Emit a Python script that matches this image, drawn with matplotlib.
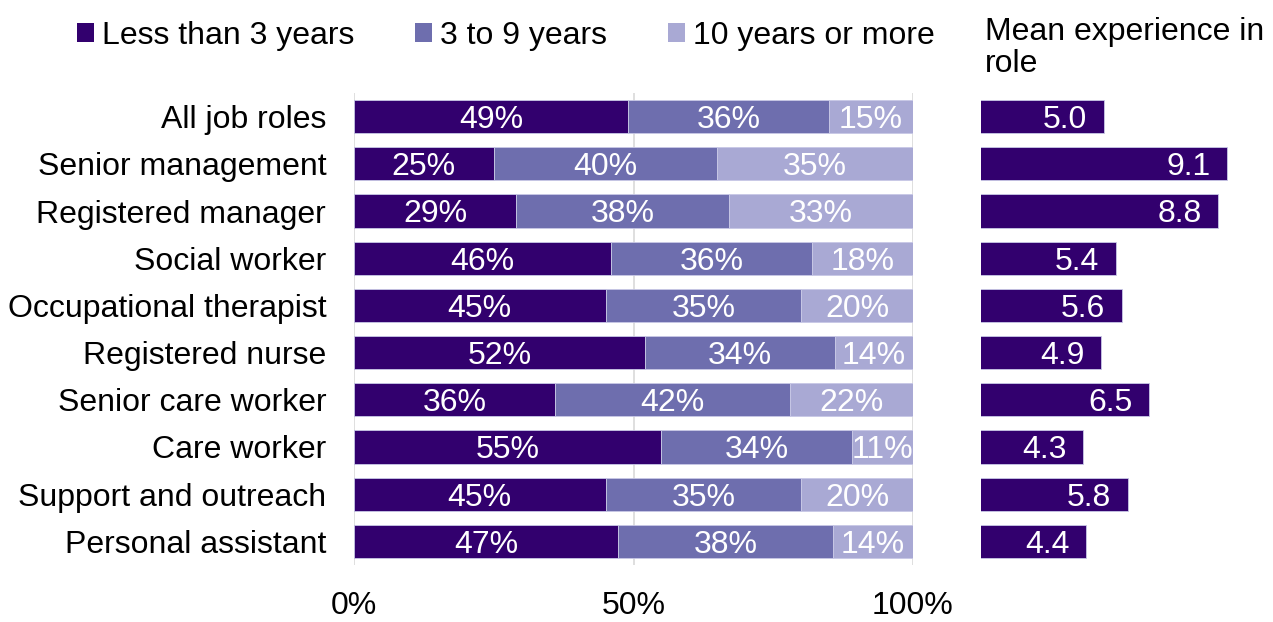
import numpy as np
import matplotlib.pyplot as plt
from matplotlib.patches import Patch

plt.rcParams['font.family'] = ['Liberation Sans', 'DejaVu Sans']

roles = ['All job roles', 'Senior management', 'Registered manager', 'Social worker',
         'Occupational therapist', 'Registered nurse', 'Senior care worker',
         'Care worker', 'Support and outreach', 'Personal assistant']
less3 = [49, 25, 29, 46, 45, 52, 36, 55, 45, 47.3]
mid3to9 = [36, 40, 38, 36, 35, 34, 42, 34, 35, 38.4]
over10 = [15, 35, 33, 18, 20, 14, 22, 11, 20, 14.3]
mean_exp = [5.0, 9.1, 8.8, 5.4, 5.6, 4.9, 6.5, 4.3, 5.8, 4.4]

series_names = ['Less than 3 years', '3 to 9 years', '10 years or more']
colors = ['#32006e', '#6e6eae', '#a9a9d4']

FS = 23
W, H = 1273, 622
fig = plt.figure(figsize=(W / 100, H / 100), dpi=100)

ax = fig.add_axes([354 / W, 1 - 565 / H, (913 - 354) / W, (565 - 93) / H])
ax2 = fig.add_axes([981 / W, 1 - 565 / H, 280 / W, (565 - 93) / H])

y = np.arange(len(roles))
left = np.zeros(len(roles))
for vals, name, c in zip([less3, mid3to9, over10], series_names, colors):
    vals = np.array(vals)
    ax.barh(y, vals, left=left, height=0.7, color=c, edgecolor='#c8c8e6', linewidth=0.6,
            zorder=3, label=name)
    for yi, l, v in zip(y, left, vals):
        ax.text(l + v / 2, yi, f'{v:.0f}%', ha='center', va='center_baseline', color='white',
                fontsize=FS, zorder=4)
    left = left + vals

ax.set_xlim(0, 100)
ax.set_ylim(9.5, -0.5)
ax.set_yticks(y)
ax.set_yticklabels(roles, fontsize=FS)
ax.set_xticks([0, 50, 100])
ax.set_xticklabels(['0%', '50%', '100%'], fontsize=FS)
ax.tick_params(length=0, axis='x', pad=18.5)
ax.tick_params(length=0, axis='y', pad=20)
ax.grid(axis='x', color='#d9d9d9', linewidth=1.2, zorder=0)
for s in ax.spines.values():
    s.set_visible(False)

ax2.barh(y, mean_exp, height=0.7, color=colors[0], edgecolor='#c8c8e6', linewidth=0.6)
for yi, v in zip(y, mean_exp):
    ax2.text(v - 0.55, yi, f'{v:.1f}', ha='right', va='center_baseline', color='white',
             fontsize=FS)
ax2.set_xlim(0.9, 0.9 + 280 / 30)
ax2.set_ylim(9.5, -0.5)
ax2.axis('off')

fig.text(985 / W, 1 - 48 / H, 'Mean experience in\nrole', fontsize=FS, ha='left', va='center',
         linespacing=1.1)

handles = [Patch(facecolor=c, edgecolor='none') for c in colors]
fig.legend(handles, series_names, loc='center left', bbox_to_anchor=(77 / W, 1 - 36 / H),
           ncol=3, frameon=False, fontsize=FS, handlelength=0.53, handleheight=0.53,
           handletextpad=0.25, columnspacing=1.9, borderaxespad=0, borderpad=0)

fig.savefig('out.png', dpi=100)
